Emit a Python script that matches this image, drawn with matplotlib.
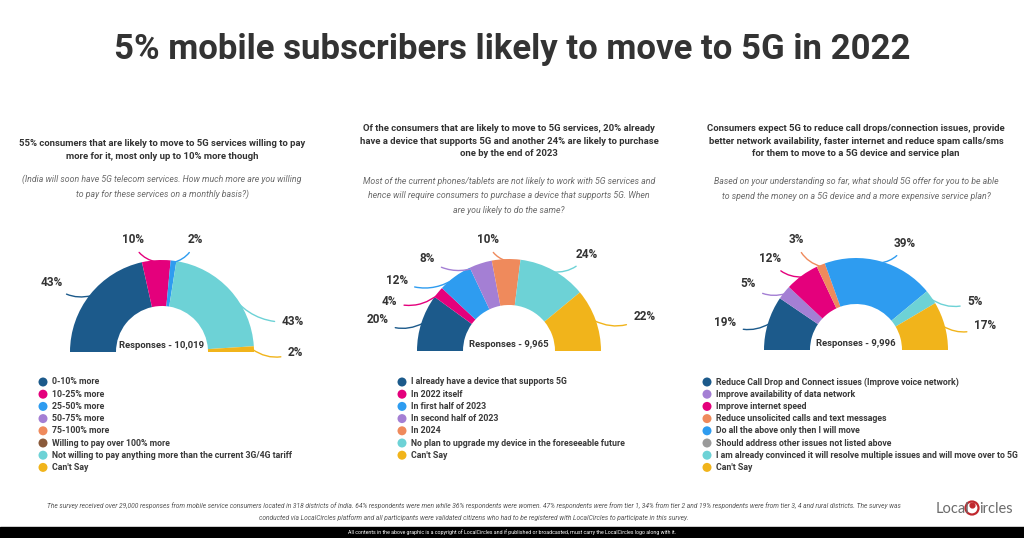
import numpy as np
import matplotlib
matplotlib.use('Agg')
import matplotlib.pyplot as plt
from matplotlib.patches import Rectangle, Circle

# ---- data ----
title = "5% mobile subscribers likely to move to 5G in 2022"

heads = [
    "55% consumers that are likely to move to 5G services willing to pay\nmore for it, most only up to 10% more though",
    "Of the consumers that are likely to move to 5G services, 20% already\nhave a device that supports 5G and another 24% are likely to purchase\none by the end of 2023",
    "Consumers expect 5G to reduce call drops/connection issues, provide\nbetter network availability, faster internet and reduce spam calls/sms\nfor them to move to a 5G device and service plan",
]
questions = [
    "(India will soon have 5G telecom services. How much more are you willing\nto pay for these services on a monthly basis?)",
    "Most of the current phones/tablets are not likely to work with 5G services and\nhence will require consumers to purchase a device that supports 5G. When\nare you likely to do the same?",
    "Based on your understanding so far, what should 5G offer for you to be able\nto spend the money on a 5G device and a more expensive service plan?",
]

cats1 = ["0-10% more", "10-25% more", "25-50% more", "50-75% more", "75-100% more",
         "Willing to pay over 100% more",
         "Not willing to pay anything more than the current 3G/4G tariff", "Can't Say"]
vals1 = [43, 10, 2, 0, 0, 0, 43, 2]
resp1 = "Responses - 10,019"

cats2 = ["I already have a device that supports 5G", "In 2022 itself", "In first half of 2023",
         "In second half of 2023", "In 2024",
         "No plan to upgrade my device in the foreseeable future", "Can't Say"]
vals2 = [20, 4, 12, 8, 10, 24, 22]
resp2 = "Responses - 9,965"

cats3 = ["Reduce Call Drop and Connect issues (Improve voice network)",
         "Improve availability of data network", "Improve internet speed",
         "Reduce unsolicited calls and text messages", "Do all the above only then I will move",
         "Should address other issues not listed above",
         "I am already convinced it will resolve multiple issues and will move over to 5G",
         "Can't Say"]
vals3 = [19, 5, 12, 3, 39, 0, 5, 17]
resp3 = "Responses - 9,996"

footer = ("The survey received over 29,000 responses from mobile service consumers located in 318 districts of India. "
          "64% respondents were men while 36% respondents were women. 47% respondents were from tier 1, 34% from tier 2 "
          "and 19% respondents were from tier 3, 4 and rural districts. The survey was\nconducted via LocalCircles platform "
          "and all participants were validated citizens who had to be registered with LocalCircles to participate in this survey.")
copyright_txt = ("All contents in the above graphic is a copyright of LocalCircles and if published or broadcasted, "
                 "must carry the LocalCircles logo along with it.")

# ---- style ----
DB, MG, BL, PU, OR, BR, TE, YE, GR = ('#1c5a8b', '#e4007c', '#2e9cf0', '#a47fd4', '#ef8a5c',
                                      '#8b5a3a', '#6dd2d6', '#f1b41b', '#9a9a9a')
cols1 = [DB, MG, BL, PU, OR, BR, TE, YE]
cols2 = [DB, MG, BL, PU, OR, TE, YE]
cols3 = [DB, PU, MG, OR, BL, GR, TE, YE]

FONT = ['Roboto', 'DejaVu Sans']
TXT = '#333333'

W, H = 1024, 538
fig = plt.figure(figsize=(W / 100, H / 100), dpi=100)
fig.patch.set_facecolor('white')

base = fig.add_axes([0, 0, 1, 1])
base.set_xlim(0, W)
base.set_ylim(H, 0)
base.axis('off')

base.text(512, 50, title, ha='center', va='center', fontsize=25, fontweight='bold',
          color='#333333', family=FONT)

R = 92  # outer radius in px
charts = [
    dict(cx=162, by=352, vals=vals1, cols=cols1, cats=cats1, resp=resp1,
         hy=150, qy=187, lx=43,
         lpos=[(-1.20, 0.75), (-0.32, 1.22), (0.36, 1.22), (1.42, 0.33), (1.45, 0.0)]),
    dict(cx=509, by=351, vals=vals2, cols=cols2, cats=cats2, resp=resp2,
         hy=141, qy=196, lx=402,
         lpos=[(-1.43, 0.34), (-1.30, 0.54), (-1.22, 0.77), (-0.89, 1.0), (-0.23, 1.21),
               (0.85, 1.05), (1.47, 0.38)]),
    dict(cx=856, by=350, vals=vals3, cols=cols3, cats=cats3, resp=resp3,
         hy=141, qy=189, lx=707,
         lpos=[(-1.42, 0.30), (-1.17, 0.72), (-0.93, 0.99), (-0.65, 1.20), (0.53, 1.16),
               (1.29, 0.53), (1.40, 0.27)]),
]

for i, c in enumerate(charts):
    # headings
    base.text(c['cx'], c['hy'], heads[i], ha='center', va='center', fontsize=6.8,
              fontweight='bold', color=TXT, family=FONT, linespacing=1.55)
    base.text(c['cx'], c['qy'], questions[i], ha='center', va='center', fontsize=6.3,
              style='italic', color='#6a6a6a', family=FONT, linespacing=1.75)

    # donut axes, data units = radius
    x0, x1, y0, y1 = -1.7, 1.7, -0.15, 1.4
    ax = fig.add_axes([(c['cx'] + x0 * R) / W, (H - c['by'] + y0 * R) / H,
                       (x1 - x0) * R / W, (y1 - y0) * R / H])
    vals = c['vals']
    tot = sum(vals)
    ax.pie(vals + [tot], colors=c['cols'] + ['none'], startangle=180, counterclock=False,
           radius=1.0, wedgeprops=dict(width=0.5, edgecolor='none'))
    ax.set_xlim(x0, x1)
    ax.set_ylim(y0, y1)
    ax.set_aspect('auto')
    ax.axis('off')

    cum = 0
    k = 0
    for v, col in zip(vals, c['cols']):
        if v == 0:
            continue
        ang = np.deg2rad(180 - (cum + v / 2) / tot * 180)
        cum += v
        px, py = c['lpos'][k]
        k += 1
        sx, sy = 0.98 * np.cos(ang), 0.98 * np.sin(ang)
        rad = 0.3 if px < sx else -0.3
        ax.annotate(f"{v}%", xy=(sx, sy), xytext=(px, py), ha='center', va='center',
                    fontsize=8.5, fontweight='bold', color=TXT, family=FONT,
                    annotation_clip=False,
                    arrowprops=dict(arrowstyle='-', color=col, lw=1.0, shrinkA=3, shrinkB=0,
                                    connectionstyle=f"arc3,rad={rad}"))
    ax.text(0, 0.02, c['resp'], ha='center', va='bottom', fontsize=6.8, fontweight='bold',
            color=TXT, family=FONT)

    # legend
    for j, (lab, col) in enumerate(zip(c['cats'], c['cols'])):
        y = 382 + j * 12.2
        base.scatter([c['lx']], [y], s=42, color=col, edgecolor='none')
        base.text(c['lx'] + 9, y, lab, ha='left', va='center', fontsize=6.3,
                  fontweight='bold', color='#3a3a3a', family=FONT)

# footer
base.text(474, 512, footer, ha='center', va='center', fontsize=4.8, style='italic',
          color='#555555', family=FONT, linespacing=1.9)
base.add_patch(Rectangle((0, 527), W, 11, color='black'))
base.text(512, 532.5, copyright_txt, ha='center', va='center', fontsize=3.8, color='white',
          family=FONT)

# logo
base.text(936, 509, "Local", ha='left', va='center', fontsize=10.5, color='#6b6b6b',
          family=['Lato', 'DejaVu Sans'])
base.add_patch(Circle((972, 508), 6.5, facecolor='none', edgecolor='#c0272d', lw=1.6))
base.scatter([972], [505], s=12, color='#c0272d')
base.text(979, 509, "ircles", ha='left', va='center', fontsize=10.5, color='#6b6b6b',
          family=['Lato', 'DejaVu Sans'])

fig.savefig('out.png', dpi=100, facecolor='white')
